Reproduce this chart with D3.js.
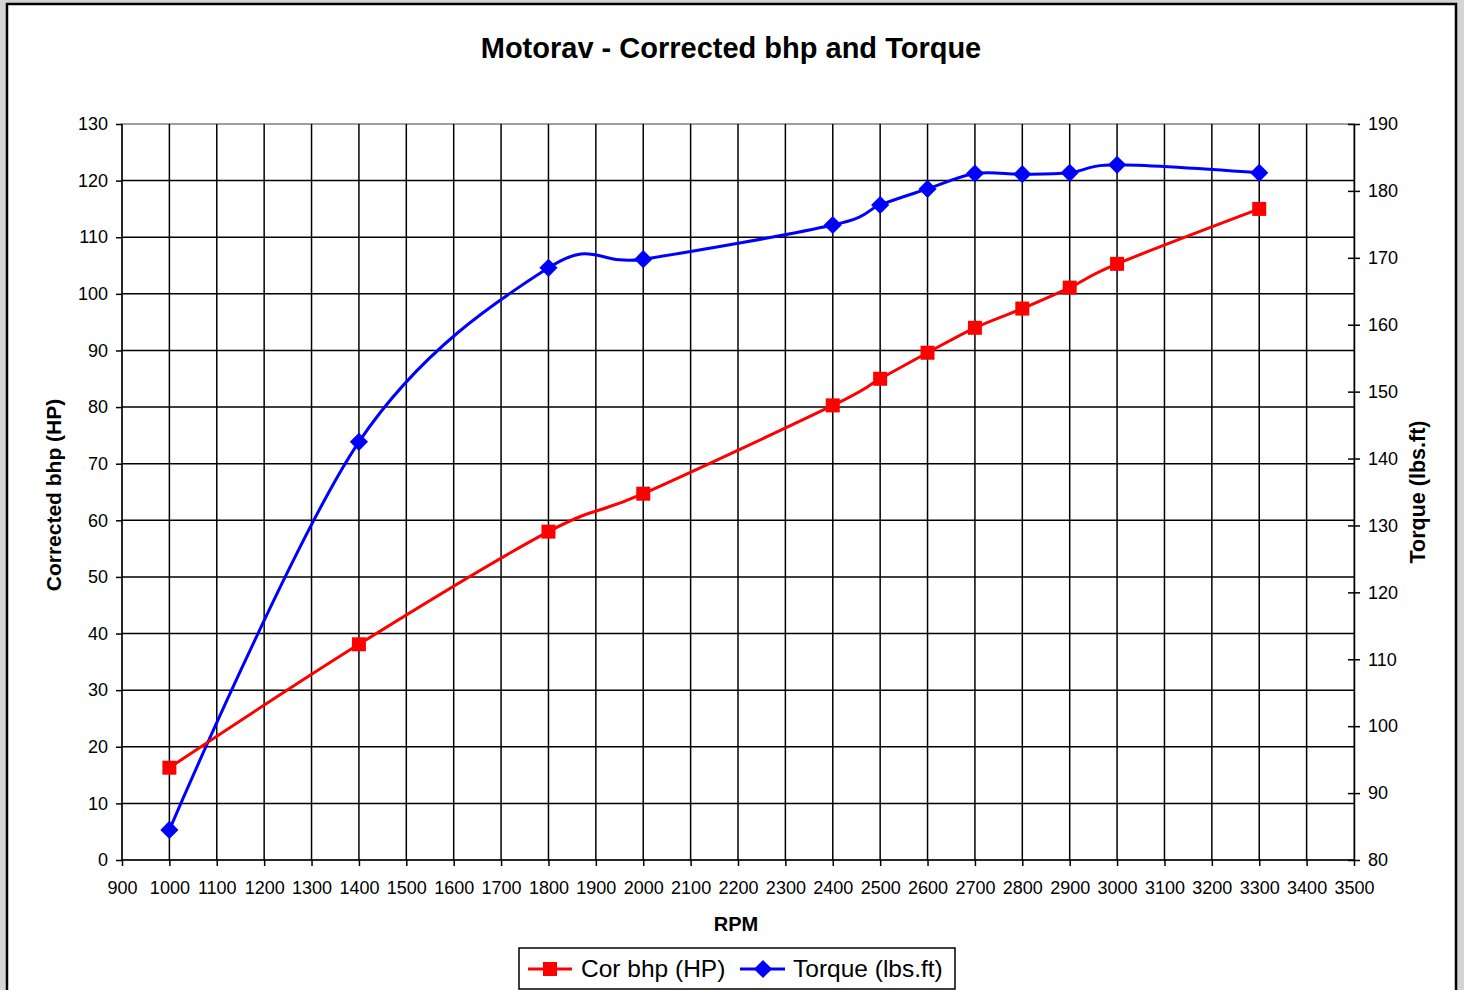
<!DOCTYPE html>
<html>
<head>
<meta charset="utf-8">
<script src="https://cdn.jsdelivr.net/npm/d3@7"></script>
<style>
  body { margin: 0; background: #d4d4d4; }
  svg { display: block; font-family: "Liberation Sans", Arial, sans-serif; }
</style>
</head>
<body>
<div id="chart"></div>
<script>
// readings
var rpm    = [1000, 1400, 1800, 2000, 2400, 2500, 2600, 2700, 2800, 2900, 3000, 3300];
var bhp    = [16.3, 38.1, 58.0, 64.7, 80.3, 85.0, 89.6, 94.0, 97.4, 101.1, 105.3, 115.0];
var torque = [84.5, 142.5, 168.5, 169.8, 174.9, 177.9, 180.3, 182.6, 182.5, 182.7, 183.9, 182.7];

var xTicks = d3.range(900, 3501, 100);
var leftTicks = d3.range(0, 131, 10);
var rightTicks = d3.range(80, 191, 10);

var W = 1464, H = 990;
var margin = {top: 124, right: 110, bottom: 130, left: 122},
    width = 1354 - margin.left,
    height = 860 - margin.top;

var svg = d3.select("#chart")
  .append("svg")
    .attr("width", W)
    .attr("height", H);

// chart area frame
svg.append("rect")
  .attr("x", 7).attr("y", 4)
  .attr("width", 1449).attr("height", H + 10)
  .attr("fill", "#fff")
  .attr("stroke", "#000")
  .attr("stroke-width", 2.5);

svg.append("text")
  .attr("x", 731).attr("y", 58)
  .attr("text-anchor", "middle")
  .style("font-size", "29px")
  .style("font-weight", "bold")
  .text("Motorav - Corrected bhp and Torque");

var g = svg.append("g")
  .attr("transform", "translate(" + margin.left + "," + margin.top + ")");

var x = d3.scaleLinear().domain([900, 3500]).range([0, width]);
var y = d3.scaleLinear().domain([0, 130]).range([height, 0]);
var y2 = d3.scaleLinear().domain([80, 190]).range([height, 0]);

// plot border (top edge grey)
g.append("rect")
  .attr("width", width).attr("height", height)
  .attr("fill", "none")
  .attr("stroke", "#808080")
  .attr("stroke-width", 1.5);

// gridlines
g.append("g")
  .selectAll("line")
  .data(xTicks.slice(1, -1))
  .enter()
  .append("line")
    .attr("x1", function(d) { return x(d); })
    .attr("x2", function(d) { return x(d); })
    .attr("y1", 0).attr("y2", height)
    .attr("stroke", "#000").attr("stroke-width", 1.5);

g.append("g")
  .selectAll("line")
  .data(leftTicks.slice(1, -1))
  .enter()
  .append("line")
    .attr("x1", 0).attr("x2", width)
    .attr("y1", function(d) { return y(d); })
    .attr("y2", function(d) { return y(d); })
    .attr("stroke", "#000").attr("stroke-width", 1.5);

// axes
var xAxis = g.append("g")
  .attr("transform", "translate(0," + height + ")")
  .call(d3.axisBottom(x).tickValues(xTicks).tickSize(6).tickPadding(15).tickFormat(d3.format("d")));

var yAxis = g.append("g")
  .call(d3.axisLeft(y).tickValues(leftTicks).tickSize(6).tickPadding(8));

var y2Axis = g.append("g")
  .attr("transform", "translate(" + width + ",0)")
  .call(d3.axisRight(y2).tickValues(rightTicks).tickSizeInner(6).tickSizeOuter(0).tickPadding(8));

// right axis ticks cross the line
y2Axis.selectAll(".tick line").attr("x1", -6);

[xAxis, yAxis, y2Axis].forEach(function(a) {
  a.select(".domain").attr("stroke", "#000").attr("stroke-width", 1.5);
  a.selectAll(".tick line").attr("stroke", "#000").attr("stroke-width", 1.5);
  a.selectAll("text")
    .style("font-size", "18px")
    .style("font-family", "'Liberation Sans', Arial, sans-serif")
    .attr("fill", "#000");
});
yAxis.select(".domain").attr("d", "M0," + height + "V0");
xAxis.select(".domain").attr("d", "M0,0H" + width);

// axis titles
svg.append("text")
  .attr("x", 736).attr("y", 931)
  .attr("text-anchor", "middle")
  .style("font-size", "20px").style("font-weight", "bold")
  .text("RPM");

svg.append("text")
  .attr("transform", "translate(61,495) rotate(-90)")
  .attr("text-anchor", "middle")
  .style("font-size", "21px").style("font-weight", "bold")
  .text("Corrected bhp (HP)");

svg.append("text")
  .attr("transform", "translate(1425,492) rotate(-90)")
  .attr("text-anchor", "middle")
  .style("font-size", "21.5px").style("font-weight", "bold")
  .text("Torque (lbs.ft)");

// series
var bhpLine = d3.line()
  .x(function(d, i) { return x(rpm[i]); })
  .y(function(d) { return y(d); })
  .curve(d3.curveCardinal.tension(0));

var tqLine = d3.line()
  .x(function(d, i) { return x(rpm[i]); })
  .y(function(d) { return y2(d); })
  .curve(d3.curveCardinal.tension(0));

g.append("path")
  .datum(torque)
  .attr("d", tqLine)
  .attr("fill", "none")
  .attr("stroke", "#0000ff")
  .attr("stroke-width", 3);

g.append("path")
  .datum(bhp)
  .attr("d", bhpLine)
  .attr("fill", "none")
  .attr("stroke", "#ff0000")
  .attr("stroke-width", 3);

var square = d3.symbol().type(d3.symbolSquare).size(196);
var diamond = d3.symbol().type(d3.symbolSquare).size(165);

g.selectAll(".tq")
  .data(torque)
  .enter()
  .append("path")
    .attr("class", "tq")
    .attr("d", diamond)
    .attr("transform", function(d, i) { return "translate(" + x(rpm[i]) + "," + y2(d) + ") rotate(45)"; })
    .attr("fill", "#0000ff");

g.selectAll(".hp")
  .data(bhp)
  .enter()
  .append("path")
    .attr("class", "hp")
    .attr("d", square)
    .attr("transform", function(d, i) { return "translate(" + x(rpm[i]) + "," + y(d) + ")"; })
    .attr("fill", "#ff0000");

// legend
var legend = svg.append("g");
legend.append("rect")
  .attr("x", 519).attr("y", 948)
  .attr("width", 436).attr("height", 41)
  .attr("fill", "#fff")
  .attr("stroke", "#000")
  .attr("stroke-width", 1.5);

legend.append("line")
  .attr("x1", 528).attr("x2", 572).attr("y1", 969).attr("y2", 969)
  .attr("stroke", "#ff0000").attr("stroke-width", 3);
legend.append("path")
  .attr("d", square)
  .attr("transform", "translate(550,969)")
  .attr("fill", "#ff0000");
legend.append("text")
  .attr("x", 581).attr("y", 977)
  .style("font-size", "24.5px")
  .text("Cor bhp (HP)");

legend.append("line")
  .attr("x1", 740).attr("x2", 785).attr("y1", 969).attr("y2", 969)
  .attr("stroke", "#0000ff").attr("stroke-width", 3);
legend.append("path")
  .attr("d", diamond)
  .attr("transform", "translate(763,969) rotate(45)")
  .attr("fill", "#0000ff");
legend.append("text")
  .attr("x", 793).attr("y", 977)
  .style("font-size", "24.5px")
  .text("Torque (lbs.ft)");
</script>
</body>
</html>
